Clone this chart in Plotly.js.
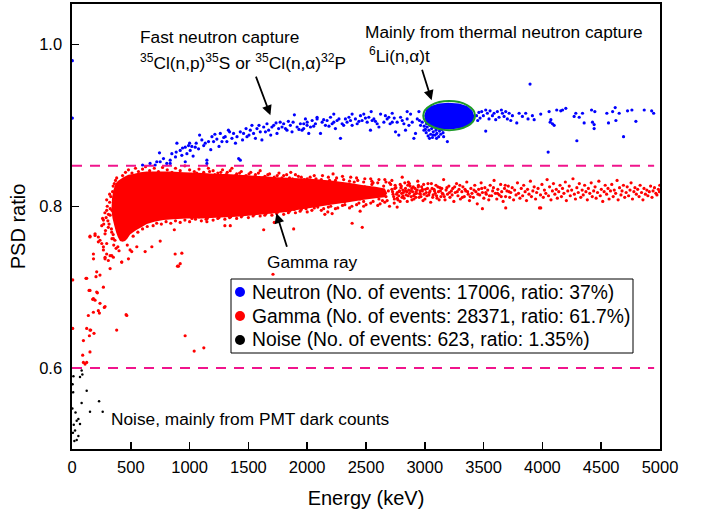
<!DOCTYPE html>
<html>
<head>
<meta charset="utf-8">
<script src="https://cdn.plot.ly/plotly-3.0.1.min.js"></script>
<style>html,body{margin:0;padding:0;background:#fff;}#chart{width:704px;height:510px;}</style>
</head>
<body>
<div id="chart"></div>
<script>
// ---------- data (Energy keV, PSD ratio) ----------
const legendNames = [
  "Neutron (No. of events: 17006, ratio: 37%)",
  "Gamma (No. of events: 28371, ratio: 61.7%)",
  "Noise (No. of events: 623, ratio: 1.35%)"
];
const legendColors = ['#0000ff', '#ff0000', '#000000'];
const cutLevels = [0.85, 0.6];

// outline of the solid gamma cloud
const gammaCore = [[335,0.795],[340,0.810],[352,0.820],[370,0.828],[395,0.832],[437,0.836],[480,0.839],[522,0.840],[580,0.842],[636,0.843],[720,0.843],[835,0.843],[950,0.842],[1119,0.841],[1230,0.840],[1317,0.840],[1420,0.839],[1516,0.838],[1630,0.837],[1743,0.836],[1880,0.835],[2027,0.834],[2200,0.832],[2350,0.829],[2480,0.826],[2580,0.824],[2660,0.822],[2680,0.816],
[2660,0.811],[2580,0.810],[2480,0.808],[2350,0.805],[2200,0.802],[2027,0.798],[1900,0.795],[1828,0.793],[1700,0.791],[1544,0.789],[1400,0.787],[1261,0.786],[1100,0.785],[977,0.785],[860,0.784],[778,0.783],[700,0.781],[636,0.778],[590,0.774],[551,0.771],[520,0.768],[494,0.765],[470,0.760],[451,0.757],[430,0.756],[408,0.757],[390,0.762],[375,0.768],[360,0.776],[345,0.785]];

// individual gamma events: fringe of the cloud
const gammaFringe = [[430,.838],[455,.842],[480,.845],[510,.841],[540,.847],[565,.843],[600,.846],[625,.849],[660,.844],[700,.847],[735,.843],[770,.848],[810,.845],[850,.842],[880,.847],[920,.844],[960,.850],[1000,.845],[1040,.843],[1080,.846],[1120,.842],[1160,.847],[1200,.844],[1240,.841],[1280,.845],[1320,.842],[1360,.847],[1400,.840],[1440,.843],[1480,.838],[1520,.842],[1560,.839],[1600,.844],[1640,.837],[1680,.840],[1720,.836],[1760,.841],[1800,.838],[1850,.835],[1900,.839],[1950,.836],[2000,.834],[2060,.838],[2120,.833],[2180,.836],[2240,.832],[2300,.837],[2360,.831],[2420,.835],[2480,.830],[2540,.834],[2600,.829],[2660,.833],[2220,.840],[2080,.830],[1860,.842],[2808,.836],
[470,.752],[520,.763],[560,.768],[600,.772],[640,.775],[690,.776],[720,.779],[760,.778],[800,.781],[840,.779],[880,.782],[920,.780],[960,.783],[1000,.781],[1050,.784],[1100,.782],[1150,.785],[1200,.783],[1250,.786],[1300,.784],[1350,.787],[1400,.785],[1450,.789],[1500,.786],[1550,.790],[1600,.788],[1650,.791],[1700,.789],[1750,.793],[1800,.790],[1850,.794],[1900,.792],[1950,.796],[2000,.793],[2060,.798],[2120,.795],[2180,.799],[2240,.797],[2300,.801],[2360,.798],[2420,.802],[2480,.800],[2540,.804],[2600,.801],[2660,.805],[2150,.790],[2450,.794],[1720,.780],[1300,.776],[870,.771],[2700,.800],
[300,.800],[320,.805],[310,.790],[330,.812],[290,.786],[340,.795],[315,.778],[285,.770],[335,.772],[345,.818],[325,.797],[305,.782],[270,.778],[350,.825],[360,.828],[280,.792],[350,.765],[365,.758],[340,.760],[355,.752],[375,.748],[390,.750],[400,.745],[260,.785],[295,.808],[370,.832],[380,.835],[320,.815],
[1010,.839],[1060,.841],[1110,.838],[1170,.843],[1215,.839],[1265,.842],[1310,.839],[1345,.844],[1390,.838],[1425,.841],[1465,.837],[1505,.840],[1545,.836],[1585,.841],[1625,.835],[1665,.839],[1705,.834],[1745,.838],[1785,.835],[1825,.839],[1875,.834],[1925,.837],[1975,.833],[2025,.836],[2075,.834],[2130,.838],[2190,.832],[2250,.835],[2310,.833],[2370,.836],[2430,.832],[2490,.834],[2550,.831],[2610,.833],[2670,.830],[2720,.832],
[1020,.785],[1080,.787],[1140,.784],[1190,.788],[1240,.785],[1290,.789],[1340,.786],[1390,.790],[1440,.787],[1490,.791],[1540,.788],[1590,.792],[1640,.789],[1690,.793],[1740,.791],[1790,.795],[1840,.792],[1890,.796],[1940,.794],[1990,.797],[2040,.795],[2090,.799],[2140,.797],[2200,.800],[2260,.798],[2320,.802],[2380,.800],[2440,.804],[2500,.802],[2560,.806],[2620,.803],[2680,.807],[2740,.804],
[2310,.815],[2330,.822],[2350,.811],[2370,.818],[2390,.826],[2410,.813],[2430,.820],[2450,.809],[2470,.817],[2490,.824],[2510,.812],[2530,.819],[2550,.827],[2570,.814],[2590,.821],[2610,.809],[2630,.816],[2650,.825],[2670,.812],[2690,.819],[2710,.827],[2730,.815],[2745,.822],[2765,.810],[2780,.818],[2800,.825],[2815,.813],[2835,.819],[2855,.826],[2870,.816],[2890,.822],[2905,.813],[2925,.818],[2945,.824],[2960,.815],[2980,.821],[2320,.806],[2400,.830],[2480,.806],[2560,.829],[2640,.807],[2700,.829],[2790,.806],[2860,.830]];

// gamma band above 2700 keV
const gammaBand = [[2720,.821],[2735,.812],[2748,.826],[2760,.815],[2771,.808],[2785,.819],[2797,.823],[2806,.811],[2818,.817],[2830,.829],
[2842,.814],[2851,.806],[2863,.820],[2875,.825],[2884,.812],[2896,.818],[2908,.809],[2917,.822],[2929,.816],[2940,.831],
[2952,.811],[2961,.819],[2973,.824],[2985,.807],[2994,.815],[3006,.821],[3018,.813],[3027,.828],[3039,.817],[3050,.805],
[3062,.822],[3071,.814],[3083,.819],[3095,.826],[3104,.810],[3116,.818],[3128,.823],[3137,.812],[3149,.816],[3160,.833],
[3172,.808],[3181,.820],[3193,.815],[3205,.825],[3214,.811],[3226,.819],[3238,.822],[3247,.806],[3259,.817],[3270,.828],
[3282,.813],[3291,.821],[3303,.809],[3315,.818],[3324,.824],[3336,.812],[3348,.819],[3357,.830],[3369,.815],[3380,.807],
[3392,.822],[3401,.816],[3413,.811],[3425,.826],[3434,.818],[3446,.803],[3458,.821],[3467,.814],[3479,.829],[3490,.817],
[3502,.810],[3511,.823],[3523,.815],[3535,.820],[3544,.808],[3556,.826],[3568,.813],[3577,.819],[3589,.832],[3600,.816],
[3612,.809],[3621,.821],[3633,.814],[3645,.827],[3654,.818],[3666,.806],[3678,.822],[3687,.812],[3699,.819],[3710,.825],
[3722,.811],[3731,.817],[3743,.823],[3755,.808],[3764,.820],[3776,.814],[3788,.829],[3797,.816],[3809,.810],[3820,.822],
[3832,.813],[3841,.826],[3853,.818],[3865,.807],[3874,.821],[3886,.815],[3898,.831],[3907,.812],[3919,.819],[3930,.824],
[3942,.809],[3951,.817],[3963,.822],[3975,.798],[3984,.814],[3996,.827],[4008,.811],[4017,.820],[4029,.816],[4040,.833],
[4052,.813],[4061,.824],[4073,.808],[4085,.819],[4094,.828],[4106,.815],[4118,.821],[4127,.810],[4139,.818],[4150,.826],
[4162,.812],[4171,.822],[4183,.816],[4195,.830],[4204,.807],[4216,.819],[4228,.825],[4237,.813],[4249,.820],[4260,.834],
[4272,.815],[4281,.809],[4293,.823],[4305,.817],[4314,.828],[4326,.811],[4338,.820],[4347,.814],[4359,.826],[4370,.818],
[4382,.808],[4391,.822],[4403,.816],[4415,.829],[4424,.812],[4436,.819],[4448,.824],[4457,.810],[4469,.817],[4480,.831],
[4492,.813],[4501,.821],[4513,.806],[4525,.818],[4534,.826],[4546,.815],[4558,.822],[4567,.809],[4579,.819],[4590,.827],
[4602,.812],[4611,.820],[4623,.816],[4635,.832],[4644,.808],[4656,.823],[4668,.814],[4677,.819],[4689,.826],[4700,.811],
[4712,.817],[4721,.824],[4733,.813],[4745,.820],[4754,.829],[4766,.809],[4778,.818],[4787,.823],[4799,.815],[4810,.821],
[4822,.812],[4831,.826],[4843,.817],[4855,.808],[4864,.822],[4876,.815],[4888,.820],[4897,.813],[4909,.818],[4920,.825],
[4932,.811],[4941,.819],[4953,.823],[4965,.816],[4974,.814],[4986,.821],[4995,.818],[4998,.826],
[2726,.818],[2741,.809],[2754,.823],[2766,.817],[2779,.813],[2791,.827],[2803,.816],[2813,.820],[2824,.810],[2836,.822],
[2847,.818],[2858,.813],[2869,.828],[2880,.819],[2891,.808],[2902,.824],[2913,.815],[2924,.811],[2935,.820],[2946,.826],
[2958,.816],[2967,.812],[2979,.819],[2990,.827],[3001,.809],[3012,.817],[3023,.822],[3034,.814],[3045,.819],[3056,.828],
[3067,.811],[3078,.821],[3089,.816],[3100,.813],[3111,.824],[3122,.808],[3133,.819],[3144,.822],[3155,.815],[3166,.812],
[3188,.823],[3210,.817],[3232,.814],[3254,.824],[3276,.818],[3298,.826],[3320,.811],[3342,.821],[3364,.818],[3386,.812],
[3418,.820],[3452,.815],[3484,.822],[3518,.817],[3550,.813],[3584,.823],[3618,.816],[3650,.812],[3684,.826],[3716,.818]];

// scattered low gamma events
const gammaLow = [[295,.795],[324,.789],[267,.783],[253,.776],[309,.774],[338,.768],[281,.766],[352,.760],[224,.762],[153,.763],[196,.764],[224,.756],[253,.754],[267,.746],[182,.741],[295,.741],[281,.735],[324,.739],[309,.733],[352,.737],[423,.731],[480,.735],[494,.746],[551,.750],[622,.744],[750,.757],[877,.741],[934,.742],[897,.726],[210,.719],[238,.715],[204,.713],[125,.711],[153,.696],[210,.694],[267,.700],[281,.676],[182,.686],[196,.684],[238,.680],[139,.665],[182,.669],[224,.671],[125,.649],[153,.647],[148,.640],[97,.634],[153,.620],[91,.616],[125,.607],[97,.607],[466,.665],[380,.647],[962,.640],[1039,.621],[1121,.625],[6,.709],[6,.649],[111,.605],[905,.726],[1709,.716],[233,.668],[275,.675],[176,.685],[216,.693],[119,.711],[145,.696],[159,.647],[187,.643],[460,.666],
[153,.762],[196,.766],[238,.758],[267,.750],[295,.754],[281,.737],[183,.735],[338,.739],[920,.729],[679,.750],[508,.744],[423,.731],[324,.723],[1630,.771],[1885,.772],[1346,.776],[1147,.781],[2382,.779],[2468,.774],[2175,.793],[2212,.791],[2765,.799],[3490,.797],[3688,.798],[3986,.798]];

// neutron events
const neutronPts = [[3,.980],[3,.909],
[664,.853],[707,.851],[744,.866],[750,.855],[806,.853],[778,.859],[835,.857],[849,.865],[892,.878],[886,.867],[920,.869],[934,.863],[963,.873],[991,.875],[977,.865],[1005,.869],[1019,.874],[1048,.873],[1056,.878],[1076,.871],[1085,.888],[1104,.882],[1133,.878],[1147,.857],[1161,.880],[1190,.886],[1204,.880],[1232,.883],[1261,.890],[1275,.880],[1303,.886],[1317,.880],[1340,.892],[1360,.884],[1374,.890],[1403,.886],[1417,.859],[1431,.892],[1459,.890],[1488,.886],[1516,.894],[1530,.900],[1544,.890],[1573,.896],[1601,.892],[1615,.882],[1630,.898],[1658,.902],[1672,.894],[1700,.898],[1715,.900],[1743,.890],[1757,.896],[1786,.898],[1800,.902],[1828,.894],[1857,.900],[1871,.892],[1891,.913],[1914,.898],[1942,.902],[1970,.896],[1999,.900],[2013,.890],
[721,.855],[835,.853],[963,.855],[1147,.853],[1431,.857],[600,.851],[880,.861],[1030,.862],[1180,.870],[1250,.874],[1390,.878],[1480,.896],[1560,.884],[1690,.888],[1770,.904],[1840,.905],
[940,.872],[1000,.878],[1120,.875],[1215,.889],[1290,.885],[1330,.894],[1450,.882],[1505,.888],[1590,.900],[1645,.892],[1735,.903],[1815,.896],[1880,.904],[1930,.895],
[1956,.894],[1971,.902],[2000,.904],[2028,.898],[2042,.906],[2070,.902],[2084,.908],[2113,.890],[2127,.904],[2155,.900],[2169,.906],[2198,.910],[2212,.902],[2226,.904],[2240,.896],[2254,.906],[2283,.884],[2297,.902],[2325,.908],[2339,.904],[2368,.906],[2382,.900],[2410,.908],[2425,.902],[2453,.912],[2467,.906],[2481,.914],[2510,.904],[2524,.910],[2538,.894],[2552,.906],[2567,.908],[2595,.902],[2624,.914],[2652,.904],[2680,.908],[2694,.910],[2723,.904],[2751,.892],[2765,.904],[2779,.888],[2794,.910],[2822,.902],[2836,.894],[2850,.908],[2879,.914],[2907,.884],[2893,.904],[2921,.890],[2936,.908],[2950,.917],[2964,.900],[2978,.904],[2993,.894],[2850,.917],[2723,.915],[2544,.917],[2382,.914],[2226,.914],[2084,.910],[1985,.908],
[2055,.899],[2140,.907],[2185,.899],[2270,.908],[2310,.900],[2355,.910],[2440,.905],[2495,.909],[2580,.905],[2610,.898],[2665,.912],[2705,.902],[2740,.909],[2808,.906],[2865,.900],[2955,.906],
[2995,.899],[3005,.895],[3012,.891],[3020,.898],[3028,.887],[3035,.894],[3042,.900],[3050,.889],[3058,.896],[3065,.885],[3072,.892],[3080,.898],[3088,.888],[3095,.894],[3102,.890],[3110,.897],[3118,.886],[3125,.893],[3135,.889],[3145,.895],[3155,.891],[3040,.884],[3070,.888],[3100,.884],[3015,.902],[3130,.898],[3160,.886],[3192,.880],
[3440,.912],[3450,.906],[3460,.916],[3470,.909],
[3484,.917],[3498,.912],[3518,.919],[3532,.915],[3546,.908],[3555,.918],[3575,.912],[3589,.915],[3603,.907],[3617,.917],[3631,.910],[3651,.919],[3660,.915],[3674,.911],[3688,.917],[3702,.908],[3717,.915],[3731,.906],[3745,.912],[3782,.903],[3802,.915],[3830,.911],[3858,.915],[3878,.908],[3895,.951],[3915,.912],[3930,.907],[3986,.914],[4057,.917],[4066,.904],[4086,.902],[4100,.900],[4072,.907],[4122,.919],[4156,.918],[4171,.919],[4199,.921],[4049,.867],[4270,.911],[4284,.915],[4313,.910],[4341,.915],[4293,.881],[4355,.903],[4418,.919],[4426,.904],[4440,.901],[4446,.917],[4440,.896],[4548,.915],[4562,.903],[4597,.917],[4619,.922],[4625,.906],[4653,.915],[4690,.886],[4724,.918],[4761,.919],[4795,.905],[4866,.919],[4929,.918],[4946,.915],[3518,.893]];

// outline of the dense thermal-neutron spot
const thermalCore = [[2995,.912],[3010,.919],[3050,.924],[3120,.927],[3200,.928],[3290,.927],[3360,.924],[3405,.918],[3422,.911],[3410,.904],[3370,.899],[3290,.896],[3200,.895],[3110,.896],[3040,.900],[3005,.905]];

// noise events
const noisePts = [[82,.597],[68,.589],[88,.592],[125,.572],[82,.557],[230,.559],[153,.546],[261,.546],[54,.537],[68,.531],[40,.535],[26,.523],[54,.516],[40,.511],[5,.58],[10,.57],[3,.55],[8,.52],[15,.53],[20,.51],[12,.59],[30,.545]];

// ---------- drawing ----------
const xs = a => a.map(p => p[0]);
const ys = a => a.map(p => p[1]);
const RED = legendColors[1], BLUE = legendColors[0];

const traces = [
  {type:'scatter', mode:'markers', name:legendNames[0], x:xs(neutronPts), y:ys(neutronPts),
   marker:{color:BLUE, size:3.2, symbol:'circle'}},
  {type:'scatter', mode:'markers', name:legendNames[1], x:xs(gammaBand), y:ys(gammaBand),
   marker:{color:RED, size:3.2, symbol:'circle'}},
  {type:'scatter', mode:'markers', name:legendNames[2], x:xs(noisePts), y:ys(noisePts),
   marker:{color:legendColors[2], size:2.5, symbol:'circle'}},
  {type:'scatter', mode:'none', fill:'toself', fillcolor:RED, hoverinfo:'skip',
   x:xs(gammaCore), y:ys(gammaCore)},
  {type:'scatter', mode:'markers', x:xs(gammaFringe), y:ys(gammaFringe), marker:{color:RED, size:3.2}},
  {type:'scatter', mode:'markers', x:xs(gammaLow), y:ys(gammaLow), marker:{color:RED, size:3.2}},
  {type:'scatter', mode:'none', fill:'toself', fillcolor:BLUE, hoverinfo:'skip',
   x:xs(thermalCore), y:ys(thermalCore)}
];

const F = 'Liberation Sans, Arial, sans-serif';
const txt = (text, x, y, size) => ({text, x, y, xref:'paper', yref:'paper', xanchor:'left', yanchor:'middle',
  showarrow:false, font:{family:F, size:size || 17.3, color:'#000'}});
const arrow = (x, y, ax, ay) => ({text:'', x, y, xref:'x', yref:'y', ax, ay, axref:'pixel', ayref:'pixel',
  showarrow:true, arrowhead:2, arrowsize:1.1, arrowwidth:1.8, arrowcolor:'#000', standoff:0, startstandoff:0});

// legend box drawn in paper coordinates (plot area: 588 x 445 px)
const PW = 588, PH = 445;
const legBox = {x0:(231-72)/PW, x1:(633-72)/PW, y0:(449-353)/PH, y1:(449-279)/PH};
const legRowsY = [292, 316, 340].map(py => (449 - py) / PH);
const legMarkX = (240 - 72) / PW, legTextX = (250 - 72) / PW;
const rx = 5 / PW, ry = 5 / PH;

const shapes = [
  {type:'line', xref:'x', yref:'y', x0:0, x1:4950, y0:cutLevels[0], y1:cutLevels[0],
   line:{color:'#f0148c', width:2, dash:'10px,8px'}},
  {type:'line', xref:'x', yref:'y', x0:0, x1:4950, y0:cutLevels[1], y1:cutLevels[1],
   line:{color:'#f0148c', width:2, dash:'10px,8px'}},
  {type:'circle', xref:'x', yref:'y', x0:2987, x1:3427, y0:0.894, y1:0.930,
   line:{color:'#1f9a2a', width:2}},
  {type:'rect', xref:'paper', yref:'paper', x0:legBox.x0, x1:legBox.x1, y0:legBox.y0, y1:legBox.y1,
   line:{color:'#000', width:1}, fillcolor:'#fff', layer:'above'}
];
legendColors.forEach((c, i) => shapes.push({type:'circle', xref:'paper', yref:'paper',
  x0:legMarkX - rx, x1:legMarkX + rx, y0:legRowsY[i] - ry, y1:legRowsY[i] + ry,
  fillcolor:c, line:{color:c, width:0}, layer:'above'}));

const annotations = [
  txt('Fast neutron capture', 0.1122, 0.9258),
  txt('<sup>35</sup>Cl(n,p)<sup>35</sup>S or <sup>35</sup>Cl(n,α)<sup>32</sup>P', 0.1122, 0.870),
  txt('Mainly from thermal neutron capture', 0.4949, 0.9371),
  txt('<sup>6</sup>Li(n,α)t', 0.5017, 0.886),
  txt('Gamma ray', 0.3282, 0.4202),
  txt('Noise, mainly from PMT dark counts', 0.0629, 0.0674),
  arrow(1687, 0.9126, -15, -40),
  arrow(3058, 0.9311, -10, -32),
  arrow(1738, 0.7913, 11, 35)
];
legendNames.forEach((n, i) => annotations.push(txt(n, legTextX, legRowsY[i], 19.3)));

const layout = {
  width:704, height:510,
  margin:{l:72, r:44, t:4, b:61},
  paper_bgcolor:'#fff', plot_bgcolor:'#fff',
  font:{family:F, size:17, color:'#000'},
  showlegend:false,
  xaxis:{range:[0,5000], dtick:500, tick0:0, showline:true, mirror:true, linecolor:'#000', linewidth:1.6,
         ticks:'inside', ticklen:7, tickwidth:1.5, tickcolor:'#000', showgrid:false, zeroline:false,
         ticklabelstandoff:3,
         tickfont:{family:F, size:16.5}, title:{text:'Energy (keV)', font:{family:F, size:20}, standoff:15}},
  yaxis:{range:[0.5,1.05], tickvals:[0.6,0.8,1.0], tickformat:'.1f', showline:true, mirror:true, linecolor:'#000',
         linewidth:1.6, ticks:'inside', ticklen:7, tickwidth:1.5, tickcolor:'#000', showgrid:false, zeroline:false,
         ticklabelstandoff:5,
         tickfont:{family:F, size:16.5}, title:{text:'PSD ratio', font:{family:F, size:20}, standoff:8}},
  shapes, annotations
};

Plotly.newPlot('chart', traces, layout, {displayModeBar:false, staticPlot:true});
</script>
</body>
</html>
